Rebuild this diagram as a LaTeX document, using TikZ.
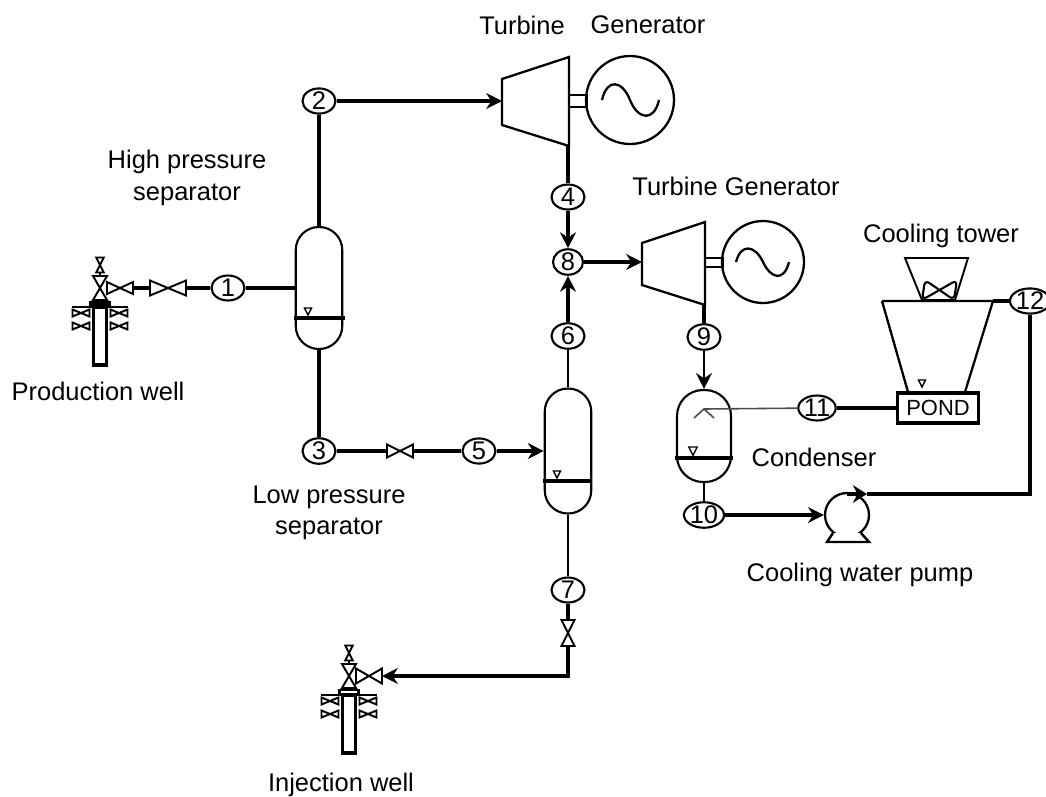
\documentclass[tikz,border=0pt]{standalone}
\usepackage{fontspec}
\setmainfont{Liberation Sans}
\usetikzlibrary{arrows.meta,positioning,shapes.geometric,calc}

\tikzset{
  valve/.pic={
    \draw[line width=1.1pt,fill=white] (-1,-.5) -- (1,.5) -- (1,-.5) -- (-1,.5) -- cycle;
    \coordinate (-w) at (-1,0);
    \coordinate (-e) at (1,0);
  },
  level/.pic={
    \draw[line width=.8pt] (-3.5,-5) -- (3.5,-5) -- (0,2) -- cycle;
  },
  well/.pic={
    % casing, cap and side valves
    \draw[line width=2pt,fill=white] (-6.5,0) rectangle (6.5,58);
    \fill (-11,-6) rectangle (11,0);
    \foreach \sx in {-19,19} \foreach \sy in {6,19}
      \pic[xscale=8.5,yscale=7] at (\sx,\sy) {valve};
    \draw[line width=1.4pt] (-28,0) -- (28,0);
    % stem valves
    \pic[rotate=90,xscale=12,yscale=14] (-main) at (0,-19) {valve};
    \pic[rotate=90,scale=7.5] at (0,-42) {valve};
    \draw[line width=1.6pt] (0,-35) -- (0,-31);
  }
}

\begin{document}
\begin{tikzpicture}[x=.02cm,y=-.02cm,>=Stealth,
  every node/.style={font=\fontsize{14.5}{17}\selectfont},
  txt/.style={inner sep=0pt,align=center},
  stream/.style={draw,ellipse,line width=1.2pt,fill=white,inner sep=0pt,minimum width=.66cm,minimum height=.5cm},
  vessel/.style={draw,line width=1.2pt,rounded corners=.46cm,minimum width=.93cm,inner sep=0pt},
  gen/.style={draw,circle,line width=1.3pt,inner sep=0pt,fill=white},
  pipe/.style={line width=2pt},
  flow/.style={pipe,-{Stealth[length=9pt,width=9pt]}},
  thinpipe/.style={line width=.9pt,black!70}]
\useasboundingbox (0,0) rectangle (1046,796);

% vessels
\node[vessel,minimum height=2.44cm] (hp) at (319,288) {};
\node[vessel,minimum height=2.5cm] (lp) at (568,451) {};
\node[vessel,minimum width=1.08cm,minimum height=1.84cm,rounded corners=.52cm] (cond) at (704,436) {};
\draw[pipe] (294,318) -- (345,318);
\draw[pipe] (543,481) -- (592,481);
\draw[line width=2.8pt] (675,458) -- (733,458);
\pic at (308,313) {level};
\pic at (557,476) {level};
\pic[scale=1.2] at (693,453) {level};
\pic at (922,385) {level};
\coordinate (spray) at (704,409);
\draw[thinpipe] (694,418) -- (spray) -- (714,418);

% turbines and generators
\draw[line width=1.3pt] (502,79) -- (569,57) -- (569,146) -- (502,125) -- cycle;
\coordinate (t1in) at (502,101);
\coordinate (t1out) at (568,146);
\node[gen,minimum size=1.76cm] (g1) at (630,100) {};
\draw[line width=1.6pt] (569,95) rectangle (587,107);
\draw[line width=1.3pt] (602,100) .. controls (607,78) and (622,80) .. (630,100) .. controls (638,120) and (654,122) .. (659,100);
\draw[line width=1.3pt] (642,243) -- (705,222) -- (705,305) -- (642,285) -- cycle;
\coordinate (t2in) at (642,262);
\coordinate (t2out) at (704,305);
\node[gen,minimum size=1.64cm] (g2) at (763,262) {};
\draw[line width=1.6pt] (705,258) rectangle (723,267);
\draw[line width=1.3pt] (736,262) .. controls (741,243) and (755,245) .. (763,262) .. controls (771,279) and (784,282) .. (789,262);

% cooling tower
\draw[line width=1.1pt] (905,258) -- (968,258) -- (955,300) -- (922,300) -- cycle;
\draw[line width=1.3pt] (882,301) -- (993,301) -- (965,392) (882,301) -- (908,392);
\draw[line width=1.2pt,rounded corners=3pt] (922,300) -- (925,280) -- (954,300) -- (957,280) -- cycle;
\node[draw,line width=2pt,minimum width=1.62cm,minimum height=.6cm,inner sep=0pt,font=\fontsize{12.5}{15}\selectfont] (pond) at (938,408) {POND};
\coordinate (towerE) at (993,301);

% pump
\node[gen,minimum size=.88cm] (pump) at (847,515) {};
\draw[line width=1.4pt,fill=white] (833,533) -- (827,542) -- (869,542) -- (861,533);
\coordinate (pumpT) at (847,494);
\coordinate (pumpTip) at (867,494);

% streams
\node[stream] (s1) at (228,288) {1};
\node[stream] (s2) at (319,101) {2};
\node[stream] (s3) at (319,451) {3};
\node[stream] (s4) at (568,197) {4};
\node[stream] (s5) at (479,451) {5};
\node[stream] (s6) at (568,336) {6};
\node[stream] (s7) at (568,590) {7};
\node[stream,minimum width=.6cm] (s8) at (568,262) {8};
\node[stream] (s9) at (704,337) {9};
\node[stream] (s10) at (704,515) {10};
\node[stream] (s11) at (817,408) {11};
\node[stream,minimum width=.58cm] (s12) at (1030,301) {12};

% valves and wells
\pic[xscale=18,yscale=15] (v1) at (168,288) {valve};
\pic[scale=13] (v3) at (400,451) {valve};
\pic[rotate=90,scale=13] (v7) at (568,633) {valve};
\pic (wp) at (100,307) {well};
\pic (wi) at (349,695) {well};
\fill[white] (341,690.5) rectangle (357,693);
\pic[xscale=13,yscale=12] (vp) at (120,288) {valve};
\pic[xscale=13,yscale=15] (vi) at (369,676) {valve};

% connectors
\draw[pipe] (s1) -- (hp.west |- s1);
\draw[pipe] (v1-e) -- (s1);
\draw[pipe] (vp-e) -- (v1-w);
\draw[pipe] (hp) -- (s2);
\draw[flow] (s2) -- (t1in);
\draw[pipe] (hp) -- (s3);
\draw[pipe] (s3) -- (v3-w);
\draw[pipe] (v3-e) -- (s5);
\draw[flow] (s5) -- (lp.west |- s5);
\draw[pipe] (t1out) -- (s4);
\draw[flow] (s4) -- (s8);
\draw[flow] (s6) -- (s8);
\draw[flow] (s8) -- (t2in);
\draw[line width=1.2pt] (s6) -- (lp);
\draw[line width=1.2pt] (lp) -- (s7);
\draw[pipe] (s7) -- (v7-e);
\coordinate (bend) at (568,676);
\draw[flow] (v7-w) -- (bend) -- (vi-e);
\draw[pipe] (t2out) -- (s9);
\draw[flow,line width=1.4pt] (s9) -- (cond);
\draw[line width=1.2pt] (cond) -- (s10);
\draw[flow] (s10) -- (pump);
\draw[thinpipe] (s11) -- (spray);
\draw[pipe] (s11) -- (pond);
\draw[pipe] (towerE) -- (s12);
\coordinate (pipeC) at (1030,494);
\draw[line width=2.2pt] (s12) -- (pipeC) -- (pumpTip);
\draw[line width=2.2pt,-{Stealth[length=8pt,width=10pt]}] (pumpT) -- (pumpTip);

% labels
\node[txt] (ltb1) at (522,25) {Turbine};
\node[txt] (lgn1) at (648,25) {Generator};
\node[txt] (lhp) at (187,178) {High pressure\\[1pt]separator};
\node[txt] (lpw) at (98,391) {Production well};
\node[txt] (ltg2) at (736,186) {Turbine Generator};
\node[txt] (lct) at (941,236) {Cooling tower};
\node[txt] (lcd) at (814,457) {Condenser};
\node[txt] (lpm) at (860,575) {Cooling water pump};
\node[txt] (llp) at (329,513) {Low pressure\\[1pt]separator};
\node[txt] (liw) at (341,785) {Injection well};
\end{tikzpicture}
\end{document}
